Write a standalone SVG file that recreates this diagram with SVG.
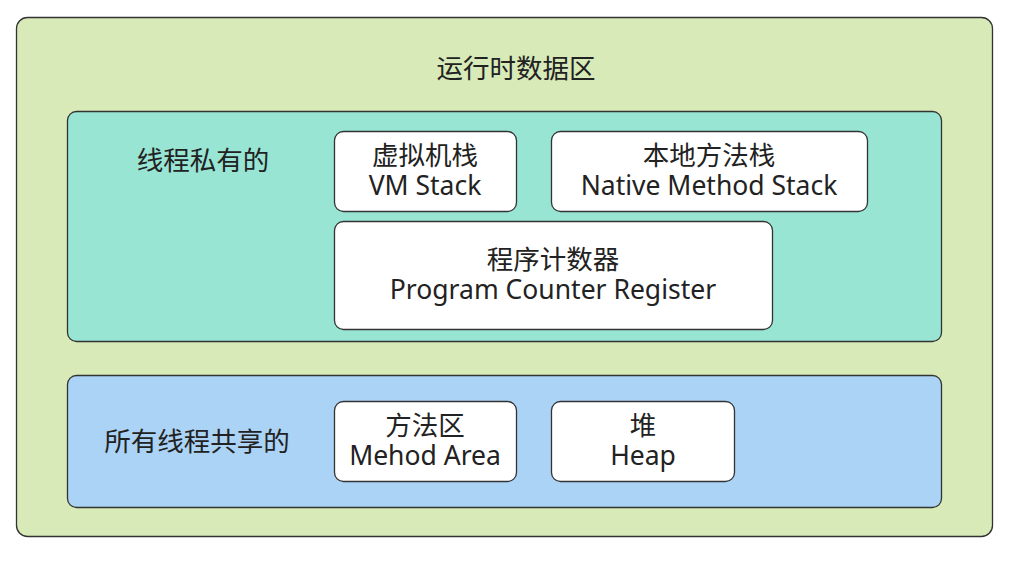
<svg xmlns="http://www.w3.org/2000/svg" width="1015" height="562" viewBox="0 0 1015 562">
<style>
.t{font-family:"Noto Sans","Noto Sans CJK SC",sans-serif;font-size:26.5px;fill:#222;text-anchor:middle}
.b{stroke:#333;stroke-width:1.3}
.n{fill:#fff}
</style>
<rect width="1015" height="562" fill="#fff"/>
<g id="runtime-data-area">
<rect class="b" x="16.5" y="17.5" width="976" height="519" rx="11" fill="#d7eab8"/>
<text class="t" x="516" y="78">运行时数据区</text>
</g>
<g id="thread-private">
<rect class="b" x="67.5" y="111.5" width="874" height="230" rx="9" fill="#98e5d4"/>
<text class="t" x="203" y="170">线程私有的</text>
</g>
<g id="thread-shared">
<rect class="b" x="67.5" y="375.5" width="874" height="132" rx="9" fill="#abd3f5"/>
<text class="t" x="197" y="451">所有线程共享的</text>
</g>
<g id="vm-stack">
<rect class="b n" x="334.5" y="131.5" width="182" height="80" rx="9"/>
<text class="t" x="425" y="165">虚拟机栈</text>
<text class="t" x="425" y="195">VM Stack</text>
</g>
<g id="native-method-stack">
<rect class="b n" x="551.5" y="131.5" width="316" height="80" rx="9"/>
<text class="t" x="709" y="165">本地方法栈</text>
<text class="t" x="709" y="195">Native Method Stack</text>
</g>
<g id="program-counter-register">
<rect class="b n" x="334.5" y="221.5" width="438" height="108" rx="9"/>
<text class="t" x="553" y="269">程序计数器</text>
<text class="t" x="553" y="299">Program Counter Register</text>
</g>
<g id="method-area">
<rect class="b n" x="334.5" y="401.5" width="182" height="80" rx="9"/>
<text class="t" x="425" y="435">方法区</text>
<text class="t" x="425" y="465">Mehod Area</text>
</g>
<g id="heap">
<rect class="b n" x="551.5" y="401.5" width="183" height="80" rx="9"/>
<text class="t" x="643" y="435">堆</text>
<text class="t" x="643" y="465">Heap</text>
</g>
<g id="connectors"></g>
</svg>
